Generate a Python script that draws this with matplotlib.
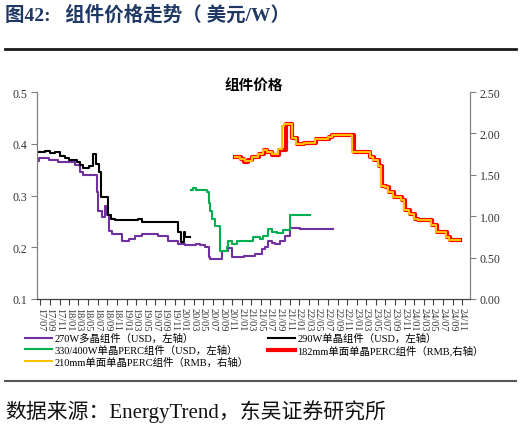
import numpy as np
import pandas as pd
import matplotlib
matplotlib.use('Agg')
import matplotlib.pyplot as plt
from matplotlib.lines import Line2D

# 270W 多晶组件 (USD/W, 左轴)
poly_dates = ['2017-06-11', '2017-06-21', '2017-08-23', '2017-10-25', '2018-02-10', '2018-03-10',
              '2018-04-01', '2018-06-25', '2018-07-05', '2018-07-26', '2018-08-16', '2018-08-28',
              '2018-09-13', '2018-09-28', '2018-12-01', '2019-01-13', '2019-02-25', '2019-04-07',
              '2019-07-19', '2019-09-22', '2019-11-25', '2020-01-07', '2020-03-19', '2020-04-10',
              '2020-05-13', '2020-06-04', '2020-06-13', '2020-08-28', '2020-10-07', '2020-10-28',
              '2021-01-13', '2021-03-25', '2021-05-07', '2021-05-28', '2021-06-19', '2021-07-10',
              '2021-08-01', '2021-09-01', '2021-10-01', '2021-11-04', '2022-01-07', '2022-08-04']
poly_vals = [0.366, 0.373, 0.369, 0.364, 0.358, 0.345,
             0.340, 0.307, 0.271, 0.259, 0.280, 0.262,
             0.232, 0.225, 0.213, 0.215, 0.222, 0.225,
             0.222, 0.213, 0.206, 0.204, 0.206, 0.204,
             0.201, 0.181, 0.177, 0.193, 0.199, 0.181,
             0.183, 0.187, 0.196, 0.200, 0.212, 0.208,
             0.206, 0.212, 0.221, 0.237, 0.235, 0.235]

# 290W 单晶组件 (USD/W, 左轴)
mono_dates = ['2017-06-12', '2017-08-01', '2017-09-01', '2017-10-01', '2017-11-06', '2017-12-06',
              '2017-12-28', '2018-02-18', '2018-03-10', '2018-04-01', '2018-05-04', '2018-06-04',
              '2018-06-19', '2018-07-10', '2018-07-19', '2018-09-06', '2018-09-25', '2018-10-19',
              '2019-03-16', '2019-04-07', '2019-11-25', '2019-12-10', '2019-12-28', '2020-01-07',
              '2020-02-08']
mono_vals = [0.384, 0.386, 0.382, 0.385, 0.376, 0.372,
             0.369, 0.365, 0.358, 0.353, 0.357, 0.380,
             0.360, 0.346, 0.298, 0.262, 0.255, 0.253,
             0.255, 0.249, 0.230, 0.210, 0.229, 0.220,
             0.220]

# 330/400W 单晶PERC组件 (USD/W, 左轴)
perc_dates = ['2020-02-13', '2020-02-28', '2020-03-19', '2020-05-22', '2020-06-04', '2020-06-13',
              '2020-06-25', '2020-07-16', '2020-08-16', '2020-09-28', '2020-10-07', '2020-10-28',
              '2020-12-01', '2021-03-13', '2021-04-25', '2021-05-16', '2021-06-19', '2021-07-10',
              '2021-08-10', '2021-09-22', '2021-11-04', '2022-03-08']
perc_vals = [0.311, 0.314, 0.311, 0.306, 0.285, 0.270,
             0.255, 0.242, 0.193, 0.200, 0.213, 0.206,
             0.213, 0.219, 0.216, 0.222, 0.235, 0.229,
             0.227, 0.233, 0.262, 0.262]

# 182mm 单面单晶PERC组件 (RMB/W, 右轴)
m182_dates = ['2020-11-16', '2020-12-25', '2021-01-15', '2021-02-10', '2021-03-08', '2021-04-20',
              '2021-05-20', '2021-06-10', '2021-07-14', '2021-08-22', '2021-10-08', '2021-11-18',
              '2021-12-14', '2022-02-01', '2022-04-14', '2022-07-08', '2022-07-29', '2022-12-16',
              '2023-03-28', '2023-04-18', '2023-05-22', '2023-06-08', '2023-07-04', '2023-07-24',
              '2023-08-24', '2023-10-12', '2023-11-02', '2023-12-02', '2024-01-06', '2024-01-27',
              '2024-04-22', '2024-05-22', '2024-07-25', '2024-08-16', '2024-10-18']
m182_vals = [1.72, 1.69, 1.66, 1.68, 1.71, 1.75,
             1.80, 1.77, 1.74, 1.80, 2.11, 1.95,
             1.87, 1.89, 1.93, 1.96, 1.98, 1.77,
             1.71, 1.68, 1.61, 1.37, 1.35, 1.29,
             1.23, 1.20, 1.07, 1.03, 0.97, 0.95,
             0.89, 0.81, 0.75, 0.71, 0.71]

# 210mm 单面单晶PERC组件 (RMB/W, 右轴)
m210_dates = ['2020-11-16', '2020-12-22', '2021-01-22', '2021-03-04', '2021-04-16', '2021-05-16',
              '2021-06-07', '2021-07-10', '2021-08-19', '2021-09-16', '2021-09-25', '2021-11-13',
              '2021-12-10', '2022-01-28', '2022-04-10', '2022-07-04', '2022-07-25', '2022-12-04',
              '2023-03-23', '2023-04-13', '2023-05-16', '2023-06-01', '2023-06-28', '2023-07-19',
              '2023-08-19', '2023-10-07', '2023-10-28', '2023-11-28', '2024-01-01', '2024-01-22',
              '2024-04-16', '2024-05-16', '2024-07-19', '2024-08-10', '2024-10-16']
m210_vals = [1.72, 1.69, 1.67, 1.72, 1.75, 1.80,
             1.77, 1.75, 1.81, 2.09, 2.11, 1.95,
             1.87, 1.89, 1.93, 1.96, 1.98, 1.77,
             1.71, 1.68, 1.61, 1.37, 1.35, 1.29,
             1.23, 1.20, 1.07, 1.03, 0.97, 0.95,
             0.89, 0.81, 0.75, 0.71, 0.71]

labels = ['270W多晶组件（USD，左轴）', '290W单晶组件（USD，左轴）', '330/400W单晶PERC组件（USD，左轴）',
          '182mm单面单晶PERC组件（RMB,右轴）', '210mm单面单晶PERC组件（RMB，右轴）']

mix_font = ['Liberation Serif', 'Noto Sans CJK SC']
tick_color = '#333333'
spine_color = '#808080'

fig = plt.figure(figsize=(5.21, 4.39), dpi=100)
ax = fig.add_axes([37 / 521, 1 - 300 / 439, 433 / 521, 207 / 439])
ax2 = ax.twinx()

l_poly, = ax.plot(pd.to_datetime(poly_dates), poly_vals, drawstyle='steps-post', color='#7030a0', lw=1.5)
l_mono, = ax.plot(pd.to_datetime(mono_dates), mono_vals, drawstyle='steps-post', color='#000000', lw=1.5)
l_perc, = ax.plot(pd.to_datetime(perc_dates), perc_vals, drawstyle='steps-post', color='#00b050', lw=1.5)
l_182, = ax2.plot(pd.to_datetime(m182_dates), m182_vals, drawstyle='steps-post', color='#ff0000', lw=3)
l_210, = ax2.plot(pd.to_datetime(m210_dates), m210_vals, drawstyle='steps-post', color='#ffc000', lw=1.5)

ax.set_ylim(0.1, 0.5)
ax.set_yticks([0.1, 0.2, 0.3, 0.4, 0.5])
ax.set_yticklabels(['%.1f' % v for v in [0.1, 0.2, 0.3, 0.4, 0.5]])
ax2.set_ylim(0, 2.5)
ax2.set_yticks([0, 0.5, 1.0, 1.5, 2.0, 2.5])
ax2.set_yticklabels(['%.2f' % v for v in [0, 0.5, 1.0, 1.5, 2.0, 2.5]])

ax.set_xlim(pd.Timestamp('2017-06-11'), pd.Timestamp('2024-12-19'))
xticks = pd.date_range('2017-07-01', '2024-11-01', freq='2MS')
ax.set_xticks(xticks)
ax.set_xticklabels([d.strftime('%y/%m') for d in xticks], rotation=270)

for a in (ax, ax2):
    a.spines['top'].set_visible(False)
    a.spines['left'].set_color(spine_color)
    a.spines['right'].set_color(spine_color)
    a.spines['bottom'].set_color('#404040')
    a.tick_params(axis='y', direction='out', length=4, color=spine_color, labelcolor=tick_color,
                  labelsize=8.5, pad=3)
    for t in a.get_yticklabels():
        t.set_fontfamily('Liberation Serif')
ax.tick_params(axis='x', direction='out', length=4, color='#404040', labelcolor=tick_color,
               labelsize=7.5, pad=2)
for t in ax.get_xticklabels():
    t.set_fontfamily('Liberation Serif')

ax.text(0.5, 1.04, '组件价格', transform=ax.transAxes, ha='center', va='center',
        fontsize=10.5, fontweight='bold', family='Noto Sans CJK SC')

fig.legend([l_poly, l_perc, l_210, l_mono, l_182],
           [labels[0], labels[2], labels[4], labels[1], labels[3]],
           ncol=2, loc='upper left', bbox_to_anchor=(25 / 521, 1 - 334 / 439),
           frameon=False, prop={'family': mix_font, 'size': 7.5},
           handlelength=2.6, handletextpad=0.2, columnspacing=1.9, labelspacing=0.15,
           borderaxespad=0, borderpad=0)

fig.text(5 / 521, 1 - 15 / 439, '图42:   组件价格走势（ 美元/W）', fontsize=14, fontweight='bold',
         color='#1f3864', family=mix_font, va='center')
fig.add_artist(Line2D([5 / 521, 516 / 521], [1 - 50 / 439, 1 - 50 / 439], lw=2,
                      color='#1a1a1a', transform=fig.transFigure))
fig.add_artist(Line2D([5 / 521, 516 / 521], [1 - 382 / 439, 1 - 382 / 439], lw=1.5,
                      color='#555555', transform=fig.transFigure))
fig.text(5 / 521, 1 - 412 / 439, '数据来源：EnergyTrend，东吴证券研究所', fontsize=15,
         color='#111111', family=mix_font, va='center')

fig.savefig('out.png', dpi=100)
